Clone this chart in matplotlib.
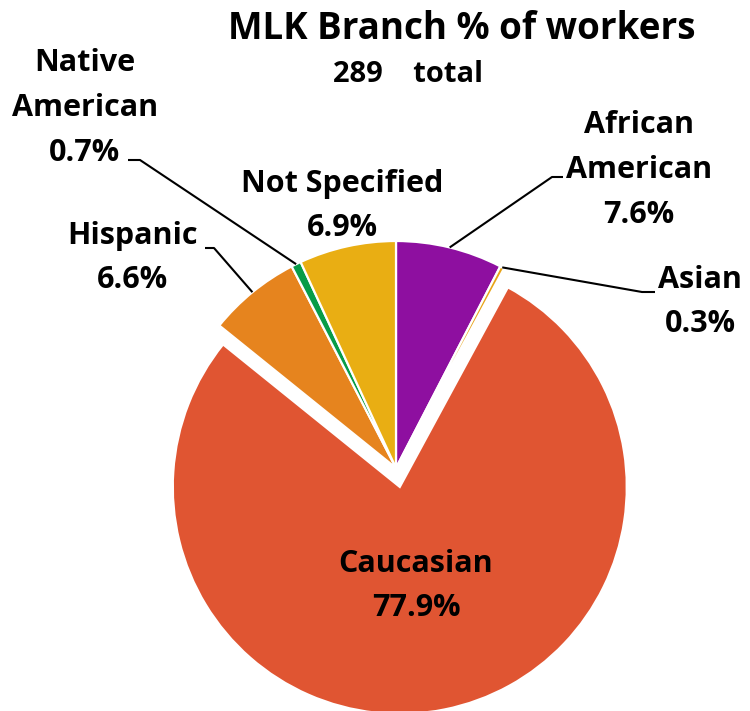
import numpy as np
import matplotlib.pyplot as plt

plt.rcParams['font.family'] = ['Open Sans', 'DejaVu Sans']
plt.rcParams['font.weight'] = 'bold'

categories = ['African\nAmerican', 'Asian', 'Caucasian', 'Hispanic', 'Native\nAmerican', 'Not Specified']
shares = [7.6, 0.3, 77.9, 6.6, 0.7, 6.9]
colors = ['#8E0FA0', '#E8A317', '#E05532', '#E6841E', '#079C48', '#E9AE13']
explode_frac = [0, 0, 0.085, 0, 0, 0]
title = 'MLK Branch % of workers'
subtitle = '289    total'

W, H = 750, 711
fig = plt.figure(figsize=(W / 100, H / 100), dpi=100)
ax = fig.add_axes([0, 0, 1, 1])

# pie centre / radius in pixel units (y measured from bottom)
cx, cy, r = 396, H - 468, 227

wedges, _ = ax.pie(shares, colors=colors, startangle=90, counterclock=False,
                   explode=[e * r for e in explode_frac], center=(cx, cy), radius=r,
                   wedgeprops=dict(edgecolor='white', linewidth=1.6))
ax.set_xlim(0, W)
ax.set_ylim(0, H)
ax.set_aspect('equal')
ax.axis('off')

def y(p):
    return H - p

fs = 22
# label positions (pixel coords) and elbow points of leader lines
label_pos = {
    0: (639, 170),
    1: (700, 302),
    2: (416, 586),
    3: (132, 258),
    4: (85, 108),
    5: (342, 206),
}
elbows = {
    0: [(563, 177), (552, 177)],
    1: [(655, 292), (642, 292)],
    3: [(205, 248), (214, 248)],
    4: [(128, 160), (140, 160)],
}

for i, (cat, val) in enumerate(zip(categories, shares)):
    lx, ly = label_pos[i]
    ax.text(lx, y(ly), f'{cat}\n{val:.1f}%', ha='center', va='center',
            fontsize=fs, fontweight='bold', linespacing=1.65, color='black')
    if i in elbows:
        w = wedges[i]
        mid = np.deg2rad((w.theta1 + w.theta2) / 2)
        ax_ = w.center[0] + w.r * np.cos(mid)
        ay_ = w.center[1] + w.r * np.sin(mid)
        pts = [(px, y(py)) for px, py in elbows[i]] + [(ax_, ay_)]
        xs, ys = zip(*pts)
        ax.plot(xs, ys, color='black', lw=1.5, solid_capstyle='butt')

ax.text(462, y(29), title, ha='center', va='center', fontsize=26.5, fontweight='bold')
ax.text(408, y(75), subtitle, ha='center', va='center', fontsize=21, fontweight='bold')

fig.savefig('out.png', dpi=100)
